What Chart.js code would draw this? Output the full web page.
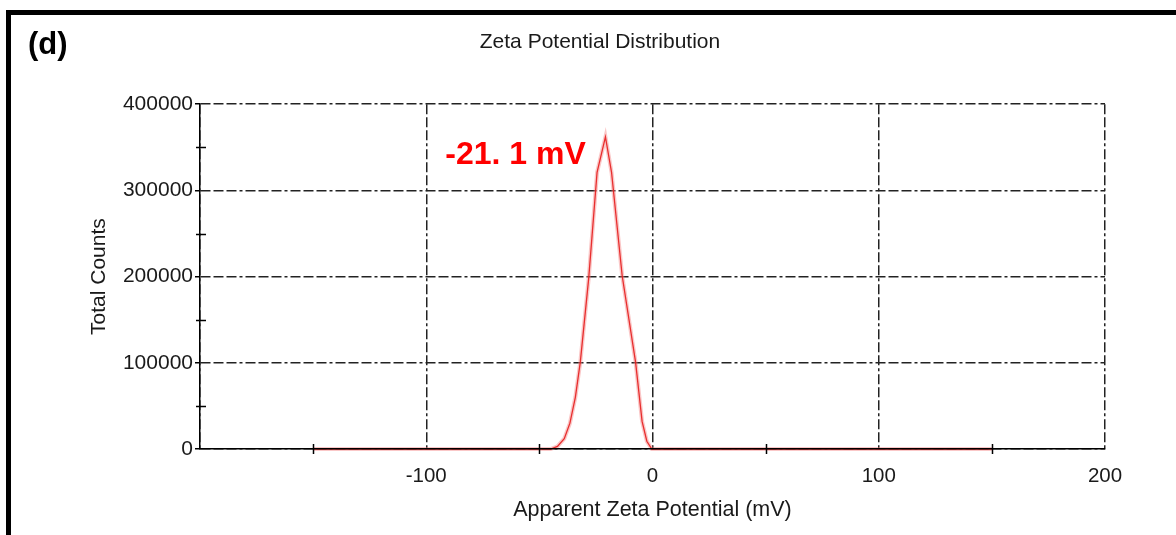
<!DOCTYPE html>
<html>
<head>
<meta charset="utf-8">
<script src="https://cdn.jsdelivr.net/npm/chart.js@4.4.1/dist/chart.umd.min.js"></script>
<style>
  html, body { margin: 0; padding: 0; background: #fff; overflow: hidden; }
  #wrap { position: relative; width: 1176px; height: 535px; overflow: hidden; }
  #chart { position: absolute; left: 0; top: 0; }
  .frame { position: absolute; left: 6px; top: 10px; right: -20px; bottom: -20px;
           border-left: 5px solid #000; border-top: 5px solid #000; pointer-events: none; }
  .panel { position: absolute; left: 28px; top: 26px; color: #000;
           font: bold 31px "Liberation Sans", Arial, sans-serif; }
</style>
</head>
<body>
<div id="wrap">
  <canvas id="chart" width="1176" height="535"></canvas>
  <div class="frame"></div>
  <div class="panel">(d)</div>
</div>
<script>
// zeta potential (mV) vs total counts
const zeta   = [-150, -45, -42, -39, -36.5, -34.1, -31.9, -28.2, -24.5, -20.8, -18.1, -13.4, -7.5, -4.6, -2.5, -0.3, 150]
const counts = [0, 0, 3000, 12000, 30000, 60000, 101000, 198000, 321000, 362000, 321000, 201000, 101000, 32000, 9000, 0, 0]

const xRange = [-200, 200]
const yRange = [0, 400000]
const xStep = 100
const yStep = 100000
const xMinor = [-150, -50, 50, 150]
const yMinor = [50000, 150000, 250000, 350000]

const peakLabel = "-21. 1 mV"
const peakLabelAt = [-29.5, 341000]

const textColor = "#1a1a1a"
const fontFamily = '"Liberation Sans", Arial, sans-serif'
const gridDash = [10, 3, 10, 3, 10, 3, 3, 3]

const points = zeta.map((v, i) => ({ x: v, y: counts[i] }))

const minorTickPlugin = {
  id: 'minorTicks',
  afterDraw(chart) {
    const { ctx, chartArea, scales: { x, y } } = chart
    ctx.save()
    ctx.strokeStyle = "#000"
    ctx.lineWidth = 1.5
    ctx.beginPath()
    xMinor.forEach(v => {
      const px = Math.round(x.getPixelForValue(v)) + 0.5
      ctx.moveTo(px, chartArea.bottom - 5)
      ctx.lineTo(px, chartArea.bottom + 5)
    })
    yMinor.forEach(v => {
      const py = Math.round(y.getPixelForValue(v)) + 0.5
      ctx.moveTo(chartArea.left - 4, py)
      ctx.lineTo(chartArea.left + 6, py)
    })
    ctx.stroke()
    ctx.restore()
  }
}

const peakLabelPlugin = {
  id: 'peakLabel',
  afterDatasetsDraw(chart) {
    const { ctx, scales: { x, y } } = chart
    ctx.save()
    ctx.font = "bold 32px " + fontFamily
    ctx.fillStyle = "#ff0000"
    ctx.textAlign = "right"
    ctx.textBaseline = "middle"
    ctx.fillText(peakLabel, x.getPixelForValue(peakLabelAt[0]), y.getPixelForValue(peakLabelAt[1]))
    ctx.restore()
  }
}

new Chart(document.getElementById("chart"), {
  type: "line",
  data: {
    datasets: [
      {
        data: points,
        borderColor: "rgba(230, 30, 30, 0.9)",
        borderWidth: 1.3,
        pointRadius: 0,
        tension: 0,
        fill: false,
        clip: 6
      },
      {
        data: points,
        borderColor: "rgba(245, 130, 130, 0.45)",
        borderWidth: 4,
        pointRadius: 0,
        tension: 0,
        fill: false,
        clip: 6
      }
    ]
  },
  options: {
    responsive: false,
    animation: false,
    events: [],
    layout: {
      padding: { left: 95, right: 71, top: 0, bottom: 0 }
    },
    scales: {
      x: {
        type: "linear",
        min: xRange[0],
        max: xRange[1],
        ticks: {
          stepSize: xStep,
          padding: 15,
          color: textColor,
          font: { family: fontFamily, size: 20.5 },
          callback: v => v === xRange[0] ? "" : String(v)
        },
        grid: {
          drawTicks: false,
          color: "#222",
          lineWidth: 1.5
        },
        border: { color: "#000", width: 1.5, dash: gridDash, z: 1 },
        title: {
          display: true,
          text: "Apparent Zeta Potential (mV)",
          color: textColor,
          font: { family: fontFamily, size: 21.5 },
          padding: { top: 0, bottom: 12 }
        },
        afterFit(scale) { scale.height = 86 }
      },
      y: {
        type: "linear",
        min: yRange[0],
        max: yRange[1],
        ticks: {
          stepSize: yStep,
          padding: 2,
          color: textColor,
          font: { family: fontFamily, size: 21 },
          callback: v => String(v)
        },
        grid: {
          color: "#222",
          lineWidth: 1.5,
          tickLength: 5,
          tickColor: "#000",
          tickWidth: 1.5
        },
        border: { color: "#000", width: 1.5, dash: gridDash, z: 1 },
        title: {
          display: true,
          text: "Total Counts",
          color: textColor,
          font: { family: fontFamily, size: 21 },
          padding: { top: -8, bottom: 0 }
        },
        afterFit(scale) { scale.width = 105 }
      }
    },
    plugins: {
      legend: { display: false },
      tooltip: { enabled: false },
      title: {
        display: true,
        text: "Zeta Potential Distribution",
        color: textColor,
        font: { family: fontFamily, size: 21, weight: "normal" },
        padding: { top: 30, bottom: 49 }
      }
    }
  },
  plugins: [minorTickPlugin, peakLabelPlugin]
})
</script>
</body>
</html>
